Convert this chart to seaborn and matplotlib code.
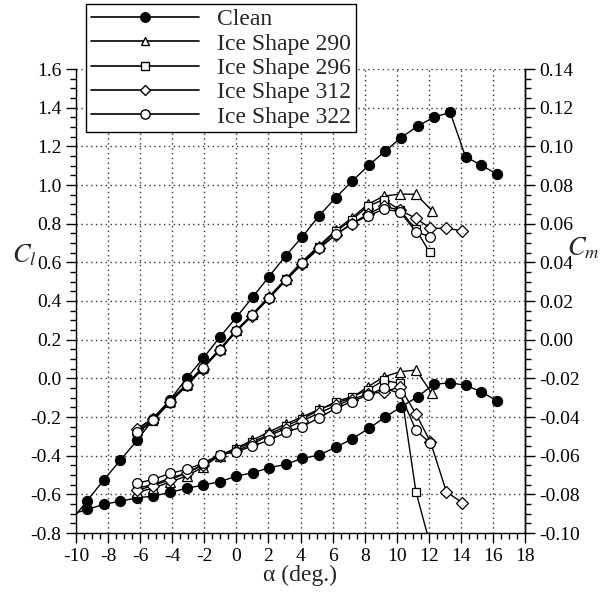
import numpy as np
import matplotlib

matplotlib.use("Agg")
import matplotlib.pyplot as plt
from matplotlib.lines import Line2D
from matplotlib.ticker import MultipleLocator, FuncFormatter
import seaborn as sns

# ---- data ----
alpha_clean = [-10.5, -9.3, -8.27, -7.23, -6.17, -5.18, -4.15, -3.1, -2.08, -1.04, 0.0,
               1.04, 2.03, 3.07, 4.11, 5.15, 6.19, 7.23, 8.26, 9.26, 10.28, 11.31,
               12.31, 13.33, 14.29, 15.26, 16.24]
cl_clean = [-0.757, -0.633, -0.526, -0.423, -0.319, -0.211, -0.112, 0.0, 0.103, 0.212, 0.316,
            0.422, 0.526, 0.633, 0.732, 0.840, 0.934, 1.021, 1.102, 1.174, 1.245, 1.305,
            1.350, 1.376, 1.146, 1.103, 1.057]
cm_clean = [-0.0909, -0.0878, -0.0852, -0.0835, -0.0818, -0.0809, -0.0790, -0.0769, -0.0752,
            -0.0735, -0.0706, -0.0688, -0.0663, -0.0645, -0.0614, -0.0597, -0.0557, -0.0513,
            -0.0459, -0.0402, -0.0347, -0.0295, -0.0231, -0.0223, -0.0236, -0.0269, -0.0316]

alpha_ice = [-6.2, -5.2, -4.15, -3.1, -2.1, -1.05, 0.0, 1.0, 2.05, 3.1, 4.1, 5.15,
             6.2, 7.2, 8.2, 9.2, 10.2, 11.2]

alpha_290 = alpha_ice + [12.2]
cl_290 = [-0.265, -0.205, -0.115, -0.030, 0.058, 0.150, 0.250, 0.332, 0.424, 0.516, 0.604,
          0.686, 0.765, 0.830, 0.900, 0.943, 0.953, 0.952, 0.867]
cm_290 = [-0.0790, -0.0768, -0.0737, -0.0705, -0.0660, -0.0600, -0.0560, -0.0520, -0.0476,
          -0.0435, -0.0400, -0.0360, -0.0330, -0.0300, -0.0244, -0.0192, -0.0166, -0.0157,
          -0.0278]

alpha_296 = alpha_ice + [12.05]
cl_296 = [-0.285, -0.220, -0.125, -0.038, 0.050, 0.144, 0.244, 0.326, 0.418, 0.512, 0.598,
          0.680, 0.760, 0.820, 0.890, 0.925, 0.870, 0.770, 0.652]
cm_296 = [-0.0768, -0.0750, -0.0716, -0.0690, -0.0645, -0.0597, -0.0565, -0.0530, -0.0490,
          -0.0445, -0.0410, -0.0365, -0.0320, -0.0295, -0.0260, -0.0210, -0.0226, -0.0787,
          -0.1050]

alpha_312 = alpha_ice + [12.1, 13.1, 14.1]
cl_312 = [-0.260, -0.210, -0.120, -0.035, 0.050, 0.145, 0.244, 0.325, 0.415, 0.508, 0.592,
          0.672, 0.742, 0.800, 0.850, 0.890, 0.870, 0.828, 0.776, 0.776, 0.763]
cm_312 = [-0.0780, -0.0755, -0.0725, -0.0690, -0.0650, -0.0600, -0.0575, -0.0540, -0.0495,
          -0.0460, -0.0420, -0.0380, -0.0340, -0.0310, -0.0280, -0.0270, -0.0244, -0.0385,
          -0.0528, -0.0787, -0.0844]

alpha_322 = alpha_ice + [12.1]
cl_322 = [-0.275, -0.215, -0.122, -0.036, 0.052, 0.146, 0.246, 0.327, 0.418, 0.510, 0.594,
          0.674, 0.745, 0.800, 0.840, 0.875, 0.862, 0.758, 0.732]
cm_322 = [-0.0743, -0.0723, -0.0692, -0.0671, -0.0640, -0.0595, -0.0580, -0.0550, -0.0520,
          -0.0480, -0.0450, -0.0405, -0.0355, -0.0320, -0.0287, -0.0250, -0.0278, -0.0468,
          -0.0536]

series = [
    ("Clean", alpha_clean, cl_clean, cm_clean, "o", "black", 7.2),
    ("Ice Shape 290", alpha_290, cl_290, cm_290, "^", "white", 6.8),
    ("Ice Shape 296", alpha_296, cl_296, cm_296, "s", "white", 5.8),
    ("Ice Shape 312", alpha_312, cl_312, cm_312, "D", "white", 5.8),
    ("Ice Shape 322", alpha_322, cl_322, cm_322, "o", "white", 7.0),
]

sns.set_style("ticks")
plt.rcParams["font.family"] = ["Liberation Serif", "DejaVu Serif"]
plt.rcParams["mathtext.fontset"] = "stix"
plt.rcParams["axes.unicode_minus"] = False

fig = plt.figure(figsize=(6, 5.94), dpi=100)
ax = fig.add_axes([76 / 600, 1 - 533 / 594, 449 / 600, 464 / 594])
ax2 = ax.twinx()

handles = []
for name, a, cl, cm, mk, fc, ms in series:
    kw = dict(color="black", marker=mk, markersize=ms, markerfacecolor=fc,
              markeredgecolor="black", markeredgewidth=0.9, linewidth=1.0,
              estimator=None, sort=False, legend=False)
    sns.lineplot(x=a, y=cl, ax=ax, **kw)
    sns.lineplot(x=a, y=cm, ax=ax2, **kw)
    handles.append(Line2D([], [], color="black", marker=mk, markersize=ms * 0.95,
                          markerfacecolor=fc, markeredgecolor="black", linewidth=1.2,
                          label=name))

ax.set_xlim(-10, 18)
ax.set_ylim(-0.8, 1.6)
ax2.set_ylim(-0.10, 0.14)

ax.xaxis.set_major_locator(MultipleLocator(2))
ax.xaxis.set_minor_locator(MultipleLocator(0.5))
ax.yaxis.set_major_locator(MultipleLocator(0.2))
ax.yaxis.set_minor_locator(MultipleLocator(0.05))
ax2.yaxis.set_major_locator(MultipleLocator(0.02))
ax2.yaxis.set_minor_locator(MultipleLocator(0.005))
ax.yaxis.set_major_formatter(FuncFormatter(lambda v, p: f"{v + 0.0:.1f}".replace("-0.0", "0.0")))
ax2.yaxis.set_major_formatter(FuncFormatter(lambda v, p: "0.00" if abs(v) < 1e-9 else f"{v:.2f}"))

for a_ in (ax, ax2):
    a_.tick_params(which="major", direction="out", length=7, width=1.0, labelsize=14,
                   color="black", labelcolor="black")
    a_.tick_params(which="minor", direction="out", length=4, width=1.0, color="black")
    a_.spines["top"].set_visible(False)
    for s in ("left", "bottom", "right"):
        a_.spines[s].set_color("black")
        a_.spines[s].set_linewidth(1.0)
ax2.spines["left"].set_visible(False)
ax2.spines["bottom"].set_visible(False)

ax.grid(True, which="major", color="#333333", linestyle=(0, (1, 2.5)), linewidth=1.0)
ax.set_axisbelow(True)
ax.set_xlabel("")
ax.set_ylabel("")
ax2.set_ylabel("")

fig.text(300 / 600, 1 - 575 / 594, "\u03b1 (deg.)", ha="center", va="center", fontsize=17)
fig.text(24 / 600, 1 - 255 / 594, "$C_l$", ha="center", va="center", fontsize=19)
fig.text(583 / 600, 1 - 248 / 594, "$C_m$", ha="center", va="center", fontsize=19)

leg = fig.legend(handles=handles, loc="upper left", bbox_to_anchor=(86 / 600, 1 - 4 / 594),
                 bbox_transform=fig.transFigure, fontsize=17, frameon=True, fancybox=False,
                 framealpha=1.0, edgecolor="black", handlelength=4.6, handletextpad=0.75,
                 borderpad=0.2, labelspacing=0.12, borderaxespad=0.0)
leg.get_frame().set_linewidth(1.0)

fig.savefig("out.png", dpi=100)
